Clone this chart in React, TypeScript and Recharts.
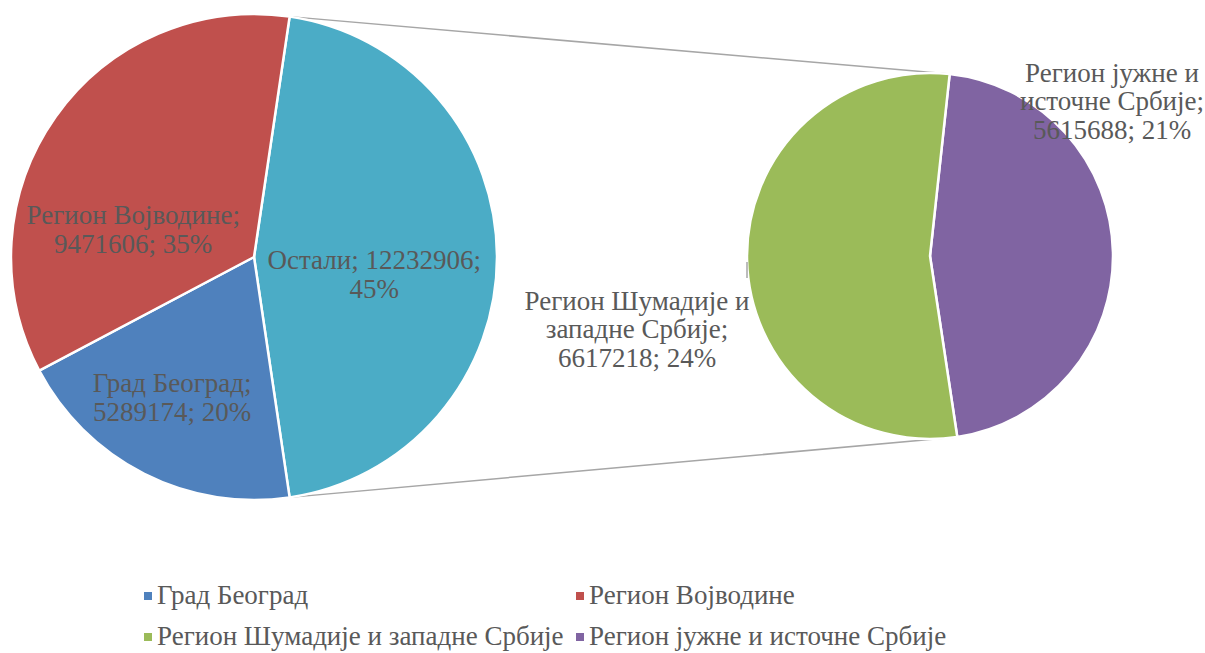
import { PieChart, Pie, Cell, Legend } from 'recharts';

// main pie
const mainNames = ['Остали', 'Град Београд', 'Регион Војводине'];
const mainValues = [12232906, 5289174, 9471606];
const mainPct = ['45%', '20%', '35%'];
const mainColors = ['#4BACC6', '#4F81BD', '#C0504D'];

// secondary pie (breakdown of "Остали")
const subNames = ['Регион јужне и источне Србије', 'Регион Шумадије и западне Србије'];
const subValues = [5615688, 6617218];
const subPct = ['21%', '24%'];
const subColors = ['#8064A2', '#9BBB59'];

const legendNames = ['Град Београд', 'Регион Војводине', 'Регион Шумадије и западне Србије', 'Регион јужне и источне Србије'];
const legendColors = ['#4F81BD', '#C0504D', '#9BBB59', '#8064A2'];

const W = 1205;
const H = 653;
const FONT = "'Liberation Serif', 'DejaVu Serif', serif";
const TEXT = '#595959';
const FS = 27;

const MAIN = { cx: 254, cy: 257, r: 243 };
const SUB = { cx: 930, cy: 256, r: 183 };

const mainTotal = mainValues.reduce((a, b) => a + b, 0);
const subTotal = subValues.reduce((a, b) => a + b, 0);
const mainSweep = (mainValues[0] / mainTotal) * 360;
const MAIN_START = mainSweep / 2;
const subSweep = (subValues[0] / subTotal) * 360;
const SUB_START = 1.2 + subSweep / 2;

const mainData = mainNames.map((name, i) => ({ name, value: mainValues[i], pct: mainPct[i] }));
const subData = subNames.map((name, i) => ({ name, value: subValues[i], pct: subPct[i] }));

// label anchors: angle (deg) + radius fraction for main; offset from centre for sub
const mainLabelPos = [
  { a: -8.5, f: 0.5, lines: (d: any) => [`${d.name};  ${d.value};`, d.pct] },
  { a: -120.2, f: 0.67, lines: (d: any) => ['Град Београд;', `${d.value}; ${d.pct}`] },
  { a: 167, f: 0.51, lines: (d: any) => ['Регион Војводине;', `${d.value}; ${d.pct}`] },
];
const subLabelPos = [
  { dx: 182, dy: -155, lines: (d: any) => ['Регион јужне и', 'источне Србије;', `${d.value}; ${d.pct}`] },
  { dx: -293, dy: 73, lines: (d: any) => ['Регион Шумадије и', 'западне Србије;', `${d.value}; ${d.pct}`] },
];

const RAD = Math.PI / 180;
const pt = (c: { cx: number; cy: number; r: number }, deg: number) => ({
  x: c.cx + c.r * Math.cos(deg * RAD),
  y: c.cy - c.r * Math.sin(deg * RAD),
});

function Lines({ x, y, lines, gap = 29 }: { x: number; y: number; lines: string[]; gap?: number }) {
  const top = y - ((lines.length - 1) * gap) / 2;
  return (
    <text x={x} y={top} fill={TEXT} fontSize={FS} fontFamily={FONT} textAnchor="middle">
      {lines.map((l, i) => (
        <tspan key={i} x={x} y={top + i * gap} dominantBaseline="central">{l}</tspan>
      ))}
    </text>
  );
}

const mainLabel = (p: any) => {
  const pos = mainLabelPos[p.index];
  const r = p.outerRadius * pos.f;
  const x = p.cx + r * Math.cos(pos.a * RAD);
  const y = p.cy - r * Math.sin(pos.a * RAD);
  return <Lines key={p.index} x={x} y={y} lines={pos.lines(mainData[p.index])} />;
};

const subLabel = (p: any) => {
  const pos = subLabelPos[p.index];
  const x = p.cx + pos.dx;
  const y = p.cy + pos.dy;
  return (
    <g key={p.index}>
      <Lines x={x} y={y} lines={pos.lines(subData[p.index])} gap={28.5} />
      {p.index === 1 && (
        <line x1={p.cx - p.outerRadius} x2={p.cx - p.outerRadius} y1={p.cy + 6} y2={p.cy + 22} stroke="#A6A6A6" strokeWidth={1.5} />
      )}
    </g>
  );
};

const renderLegend = () => (
  <div
    style={{
      display: 'grid',
      gridTemplateColumns: '432px 420px',
      rowGap: 14,
      fontFamily: FONT,
      fontSize: FS,
      color: TEXT,
      lineHeight: '27px',
    }}
  >
    {legendNames.map((n, i) => (
      <div key={n} style={{ display: 'flex', alignItems: 'center', whiteSpace: 'nowrap' }}>
        <span style={{ width: 8, height: 8, background: legendColors[i], marginRight: 5, display: 'inline-block' }} />
        {n}
      </div>
    ))}
  </div>
);

export default function App() {
  const aTop = pt(MAIN, MAIN_START);
  const aBot = pt(MAIN, MAIN_START - mainSweep);
  const bTop = pt(SUB, SUB_START);
  const bBot = pt(SUB, SUB_START - subSweep);

  return (
    <div style={{ position: 'absolute', left: 0, top: 0, width: W, height: H, background: '#fff' }}>
      <svg width={W} height={H} style={{ position: 'absolute', left: 0, top: 0 }}>
        <line x1={aTop.x} y1={aTop.y} x2={bTop.x} y2={bTop.y} stroke="#A6A6A6" strokeWidth={1.5} />
        <line x1={aBot.x} y1={aBot.y} x2={bBot.x} y2={bBot.y} stroke="#A6A6A6" strokeWidth={1.5} />
      </svg>
      <PieChart
        width={W}
        height={H}
        margin={{ top: 0, right: 0, bottom: 0, left: 0 }}
        style={{ position: 'absolute', left: 0, top: 0 }}
      >
        <Pie
          data={mainData}
          dataKey="value"
          cx={MAIN.cx}
          cy={MAIN.cy}
          outerRadius={MAIN.r}
          startAngle={MAIN_START}
          endAngle={MAIN_START - 360}
          stroke="#fff"
          strokeWidth={2.5}
          label={mainLabel}
          labelLine={false}
          isAnimationActive={false}
        >
          {mainData.map((_, i) => <Cell key={i} fill={mainColors[i]} />)}
        </Pie>
        <Pie
          data={subData}
          dataKey="value"
          cx={SUB.cx}
          cy={SUB.cy}
          outerRadius={SUB.r}
          startAngle={SUB_START}
          endAngle={SUB_START - 360}
          stroke="#fff"
          strokeWidth={2.5}
          label={subLabel}
          labelLine={false}
          isAnimationActive={false}
        >
          {subData.map((_, i) => <Cell key={i} fill={subColors[i]} />)}
        </Pie>
        <Legend
          content={renderLegend}
          wrapperStyle={{ position: 'absolute', left: 144, top: 582, width: 900 }}
        />
      </PieChart>
    </div>
  );
}
